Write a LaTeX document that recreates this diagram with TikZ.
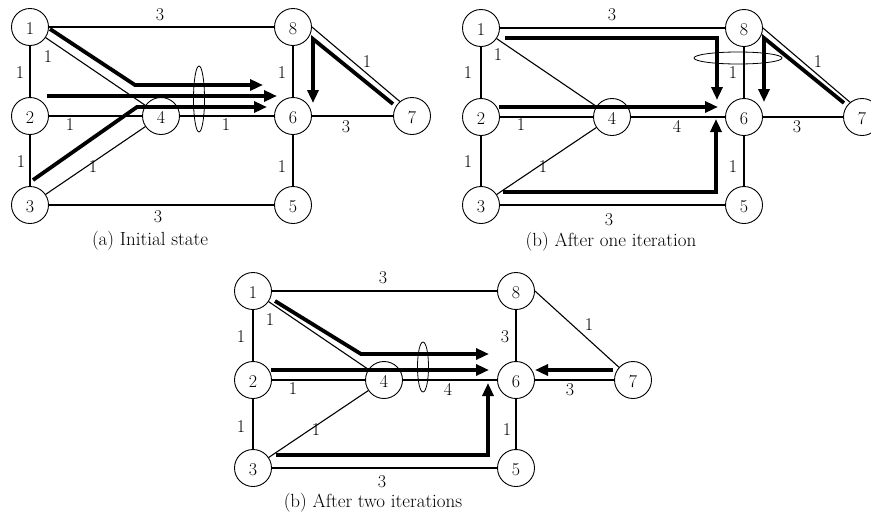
\documentclass[tikz,border=0pt]{standalone}
\usetikzlibrary{arrows.meta}
\begin{document}
\begin{tikzpicture}[x=1pt,y=-1pt,
  vertex/.style={circle,draw,line width=0.9pt,fill=white,minimum size=37pt,inner sep=0pt,
    font=\fontsize{18}{18}\selectfont,text height=15.5pt,text depth=0pt},
  link/.style={line width=1.1pt},
  flow/.style={line width=3.8pt,-{Triangle[length=13pt,width=11pt]}},
  wt/.style={font=\fontsize{18}{18}\selectfont,inner sep=0pt},
  caption/.style={font=\fontsize{19}{19}\selectfont,inner sep=0pt},
  ring/.style={line width=0.8pt}]
\useasboundingbox (0,0) rectangle (871,512);

% ---------------- (a) Initial state ----------------
\node[vertex] (a1) at (30,27)  {1};
\node[vertex] (a2) at (30,116) {2};
\node[vertex] (a3) at (30,205) {3};
\node[vertex] (a4) at (161,116) {4};
\node[vertex] (a8) at (293,27) {8};
\node[vertex] (a6) at (293,116) {6};
\node[vertex] (a5) at (293,205) {5};
\node[vertex] (a7) at (412,116) {7};
\draw[link] (a1) -- (a8);
\draw[link] (a1) -- (a2);
\draw[link] (a2) -- (a3);
\draw[link] (a1) -- (a4);
\draw[link] (a2) -- (a4);
\draw[link] (a3) -- (a4);
\draw[link] (a4) -- (a6);
\draw[link] (a3) -- (a5);
\draw[link] (a8) -- (a6);
\draw[link] (a8.east) -- (a7.130);
\draw[link] (a6) -- (a7);
\draw[link] (a6) -- (a5);
\node[wt] (wa18) at (160,15) {3};
\node[wt] (wa12) at (20,73) {1};
\node[wt] (wa14) at (48,57) {1};
\node[wt] (wa24) at (70,125) {1};
\node[wt] (wa23) at (21,162) {1};
\node[wt] (wa34) at (93,167) {1};
\node[wt] (wa46) at (226,125) {1};
\node[wt] (wa35) at (158,217) {3};
\node[wt] (wa86) at (282,73) {1};
\node[wt] (wa87) at (367,62) {1};
\node[wt] (wa67) at (346,127) {3};
\node[wt] (wa65) at (282,167) {1};
\coordinate (fa1) at (50,29);
\coordinate (fa1b) at (135,85);
\coordinate (fa1e) at (263,85);
\coordinate (fa2) at (47,96);
\coordinate (fa2e) at (277,96);
\coordinate (fa3) at (33,180);
\coordinate (fa3b) at (137,107);
\coordinate (fa3e) at (267,107);
\coordinate (fa7) at (393,104);
\coordinate (fa7b) at (313,39);
\coordinate (fa7e) at (313,103);
\draw[flow] (fa1) -- (fa1b) -- (fa1e);
\draw[flow] (fa2) -- (fa2e);
\draw[flow] (fa3) -- (fa3b) -- (fa3e);
\draw[flow] (fa7) -- (fa7b) -- (fa7e);
\draw[ring] (199,99) ellipse [x radius=5.5, y radius=33];
\node[caption] (capa) at (150,241) {(a) Initial state};

% ---------------- (b) After one iteration ----------------
\node[vertex] (b1) at (481,28)  {1};
\node[vertex] (b2) at (481,117) {2};
\node[vertex] (b3) at (481,205) {3};
\node[vertex] (b4) at (612,117) {4};
\node[vertex] (b8) at (744,28)  {8};
\node[vertex] (b6) at (744,117) {6};
\node[vertex] (b5) at (744,205) {5};
\node[vertex] (b7) at (862,117) {7};
\draw[link] (b1) -- (b8);
\draw[link] (b1) -- (b2);
\draw[link] (b2) -- (b3);
\draw[link] (b1) -- (b4);
\draw[link] (b2) -- (b4);
\draw[link] (b3) -- (b4);
\draw[link] (b4) -- (b6);
\draw[link] (b3) -- (b5);
\draw[link] (b8) -- (b6);
\draw[link] (b8.east) -- (b7.129);
\draw[link] (b6) -- (b7);
\draw[link] (b6) -- (b5);
\node[wt] (wb18) at (612,15) {3};
\node[wt] (wb12) at (468,73) {1};
\node[wt] (wb14) at (498,55) {1};
\node[wt] (wb24) at (521,125) {1};
\node[wt] (wb23) at (468,162) {1};
\node[wt] (wb34) at (543,167) {1};
\node[wt] (wb46) at (677,126) {4};
\node[wt] (wb35) at (609,220) {3};
\node[wt] (wb86) at (733,73) {1};
\node[wt] (wb87) at (818,62) {1};
\node[wt] (wb67) at (797,127) {3};
\node[wt] (wb65) at (733,167) {1};
\coordinate (fb1) at (505,38);
\coordinate (fb1b) at (717,38);
\coordinate (fb1e) at (717,100);
\coordinate (fb2) at (499,107);
\coordinate (fb2e) at (718,107);
\coordinate (fb3) at (503,192);
\coordinate (fb3b) at (716,192);
\coordinate (fb3e) at (716,119);
\coordinate (fb7) at (844,103);
\coordinate (fb7b) at (764,38);
\coordinate (fb7e) at (764,102);
\draw[flow] (fb1) -- (fb1b) -- (fb1e);
\draw[flow] (fb2) -- (fb2e);
\draw[flow] (fb3) -- (fb3b) -- (fb3e);
\draw[flow] (fb7) -- (fb7b) -- (fb7e);
\draw[ring] (738,58) ellipse [x radius=44, y radius=6];
\node[caption] (capb) at (611,242) {(b) After one iteration};

% ---------------- (b) After two iterations ----------------
\node[vertex] (c1) at (253,291) {1};
\node[vertex] (c2) at (253,380) {2};
\node[vertex] (c3) at (253,468) {3};
\node[vertex] (c4) at (384,380) {4};
\node[vertex] (c8) at (516,291) {8};
\node[vertex] (c6) at (516,380) {6};
\node[vertex] (c5) at (516,468) {5};
\node[vertex] (c7) at (633,380) {7};
\draw[link] (c1) -- (c8);
\draw[link] (c1) -- (c2);
\draw[link] (c2) -- (c3);
\draw[link] (c1) -- (c4);
\draw[link] (c2) -- (c4);
\draw[link] (c3) -- (c4);
\draw[link] (c4) -- (c6);
\draw[link] (c3) -- (c5);
\draw[link] (c8) -- (c6);
\draw[link] (c8.east) -- (c7);
\draw[link] (c6) -- (c7);
\draw[link] (c6) -- (c5);
\node[wt] (wc18) at (383,278) {3};
\node[wt] (wc12) at (241,337) {1};
\node[wt] (wc14) at (270,320) {1};
\node[wt] (wc24) at (293,389) {1};
\node[wt] (wc23) at (241,427) {1};
\node[wt] (wc34) at (316,430) {1};
\node[wt] (wc46) at (448,389) {4};
\node[wt] (wc35) at (382,482) {3};
\node[wt] (wc86) at (505,337) {3};
\node[wt] (wc87) at (589,325) {1};
\node[wt] (wc67) at (570,390) {3};
\node[wt] (wc65) at (507,430) {1};
\coordinate (fc1) at (275,301);
\coordinate (fc1b) at (361,354);
\coordinate (fc1e) at (489,354);
\coordinate (fc2) at (271,370);
\coordinate (fc2e) at (489,370);
\coordinate (fc3) at (276,455);
\coordinate (fc3b) at (488,455);
\coordinate (fc3e) at (488,383);
\coordinate (fc7) at (613,370);
\coordinate (fc7e) at (535,370);
\draw[flow] (fc1) -- (fc1b) -- (fc1e);
\draw[flow] (fc2) -- (fc2e);
\draw[flow] (fc3) -- (fc3b) -- (fc3e);
\draw[flow] (fc7) -- (fc7e);
\draw[ring] (423,367) ellipse [x radius=5.5, y radius=25];
\node[caption] (capc) at (373,503) {(b) After two iterations};
\end{tikzpicture}
\end{document}
